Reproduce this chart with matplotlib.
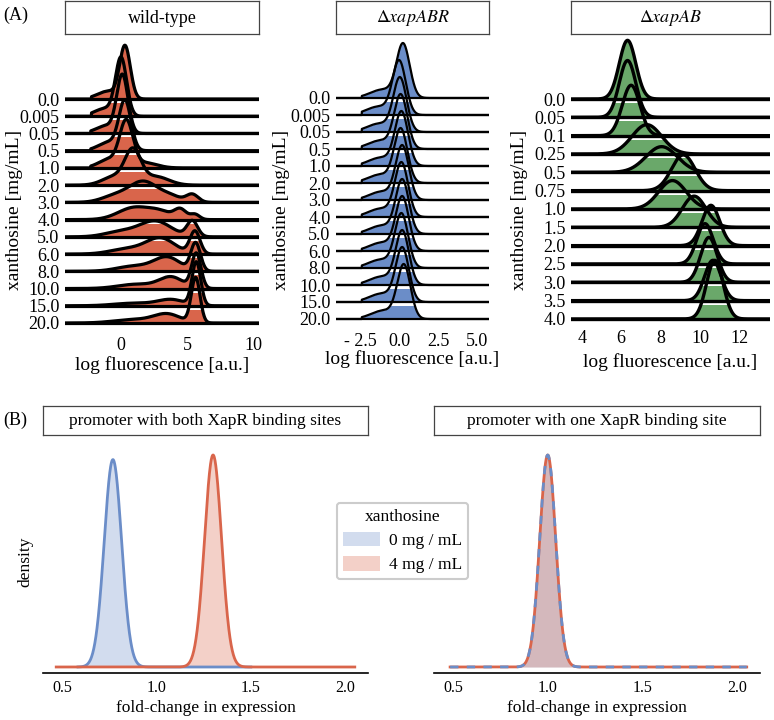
import numpy as np
import matplotlib
matplotlib.use('Agg')
import matplotlib.pyplot as plt
from matplotlib.patches import Patch

plt.rcParams['font.family'] = ['Liberation Serif', 'DejaVu Serif']
plt.rcParams['mathtext.fontset'] = 'stix'

W, H = 774, 720

# ---------------- panel A data ----------------
# each ridge = list of (centre, width, height in row units)
wt_conc = ['0.0', '0.005', '0.05', '0.5', '1.0', '2.0', '3.0', '4.0',
           '5.0', '6.0', '8.0', '10.0', '15.0', '20.0']
wt_peaks = [
    [(0.3, 0.40, 3.0), (-1.0, 0.8, 0.45)],
    [(0.0, 0.42, 3.3), (-1.2, 0.8, 0.45)],
    [(0.1, 0.42, 3.3), (-1.1, 0.8, 0.45)],
    [(0.3, 0.45, 2.8), (-0.9, 0.8, 0.5)],
    [(0.4, 0.50, 2.6), (-0.9, 0.8, 0.5), (1.8, 0.9, 0.3)],
    [(0.9, 0.60, 1.9), (-0.5, 0.9, 0.5), (2.6, 1.0, 0.5)],
    [(1.7, 1.10, 1.2), (-0.5, 1.0, 0.35), (3.8, 0.8, 0.3), (5.4, 0.45, 0.45)],
    [(1.0, 1.20, 0.7), (3.0, 0.9, 0.4), (4.5, 0.45, 0.55), (5.6, 0.35, 0.3)],
    [(2.6, 1.20, 0.9), (0.0, 1.2, 0.3), (5.4, 0.40, 0.9)],
    [(3.0, 1.10, 0.9), (0.5, 1.3, 0.3), (5.6, 0.38, 1.3)],
    [(3.5, 1.00, 0.8), (1.0, 1.3, 0.3), (5.65, 0.36, 1.6)],
    [(3.8, 0.90, 0.65), (1.2, 1.4, 0.25), (5.7, 0.35, 2.0)],
    [(3.8, 1.00, 0.35), (1.0, 1.5, 0.15), (5.7, 0.33, 2.5)],
    [(3.5, 1.00, 0.5), (1.0, 1.5, 0.2), (5.65, 0.33, 2.6)],
]
wt_low = [-2.25, -2.25, -2.3, -2.3, -2.3, None, None, None, None, None, None, None, None, None]

abr_conc = wt_conc
abr_mu = [0.25, 0.0, 0.05, 0.1, 0.15, 0.1, 0.2, 0.15, 0.2, 0.2, 0.15, 0.2, 0.2, 0.3]
abr_peaks = [[(m, 0.42, 3.1), (m - 1.3, 0.8, 0.5)] for m in abr_mu]
abr_low = [-2.4] * 14

ab_conc = ['0.0', '0.05', '0.1', '0.25', '0.5', '0.75', '1.0', '1.5',
           '2.0', '2.5', '3.0', '3.5', '4.0']
ab_mu = [6.32, 6.32, 6.5, 7.3, 8.05, 9.15, 8.6, 9.7, 10.55, 10.25, 10.45, 10.65, 10.75]
ab_sd = [0.42, 0.42, 0.45, 0.75, 0.8, 0.6, 0.7, 0.6, 0.45, 0.42, 0.42, 0.42, 0.42]
ab_h = [3.2, 3.1, 2.75, 1.6, 1.4, 1.95, 1.55, 1.7, 2.2, 2.2, 2.45, 2.2, 3.2]
ab_peaks = [[(m, s, h)] for m, s, h in zip(ab_mu, ab_sd, ab_h)]
ab_low = [None] * 13

# ---------------- panel B data ----------------
both_mu = [0.77, 1.30]
both_sd = [0.046, 0.045]
both_range = [(0.585, 1.50), (0.47, 2.05)]
one_mu = [1.0, 1.0]
one_sd = [0.042, 0.042]
one_range = [(0.485, 2.05), (0.485, 2.05)]
legend_labels = ['0 mg / mL', '4 mg / mL']

red = '#d9654b'
blue = '#6b8dc8'
green = '#6aa86a'


def box(x0, x1, y0, y1):
    return [x0 / W, 1 - y1 / H, (x1 - x0) / W, (y1 - y0) / H]


def title_box(fig, rect, text, size=12.5):
    tax = fig.add_axes(rect)
    tax.set_xticks([])
    tax.set_yticks([])
    for s in tax.spines.values():
        s.set_color('#444444')
        s.set_linewidth(0.9)
    tax.text(0.5, 0.47, text, ha='center', va='center', fontsize=size,
             transform=tax.transAxes)


def ridge(x, comps, lo):
    y = np.zeros_like(x)
    for m, s, h in comps:
        y += h * np.exp(-0.5 * ((x - m) / s) ** 2)
    if lo is not None:
        y[x < lo] = 0
    return y


def ridges(fig, px, labels, peaks, lows, color, xlim, base0, spacing, lw,
           ticks, ticklabels, title, xpad, xlab_y, ylab_x):
    x0, x1, y0, y1 = px
    ax = fig.add_axes(box(x0, x1, y0, y1))
    ax.set_facecolor('none')
    x = np.linspace(xlim[0], xlim[1], 3000)
    band = 4.0 / spacing
    for i, (comps, lo) in enumerate(zip(peaks, lows)):
        b = -i
        y = ridge(x, comps, lo)
        # fills under white gaps, outlines on top of everything
        ax.fill_between(x, b, b + y, color=color, lw=0, zorder=2 + 0.01 * i)
        ax.axhspan(b - band, b, color='w', lw=0, zorder=5)
        ax.plot(x, b + y, color='k', lw=lw, zorder=10 + 0.01 * i)
        ax.axhline(b, color='k', lw=lw, zorder=10 + 0.01 * i)
    ax.set_xlim(xlim)
    ax.set_ylim(-(y1 - base0) / spacing, (base0 - y0) / spacing)
    ax.set_yticks(-np.arange(len(labels)))
    ax.set_yticklabels(labels)
    ax.set_xticks(ticks)
    ax.set_xticklabels(ticklabels)
    ax.tick_params(length=0, labelsize=13)
    ax.tick_params(axis='y', pad=4)
    ax.tick_params(axis='x', pad=xpad)
    for s in ax.spines.values():
        s.set_visible(False)
    fig.text(((x0 + x1) / 2) / W, 1 - xlab_y / H, 'log fluorescence [a.u.]',
             ha='center', va='center', fontsize=14)
    fig.text(ylab_x / W, 1 - 210 / H, 'xanthosine [mg/mL]', rotation=90,
             ha='center', va='center', fontsize=14)
    title_box(fig, box(x0, x1, 1, 34), title, 13)
    return ax


def dens(ax, mus, sds, ranges, dashed=False):
    peak = 0
    for k, (m, s, (lo, hi)) in enumerate(zip(mus, sds, ranges)):
        x = np.linspace(lo, hi, 800)
        y = np.exp(-0.5 * ((x - m) / s) ** 2) / (s * np.sqrt(2 * np.pi))
        c = [blue, red][k]
        ax.fill_between(x, 0, y, color=c, alpha=0.3, lw=0)
        if dashed and k == 1:
            ax.plot(x, y, color=red, lw=2)
            ax.plot(x, y, color=blue, lw=2, dashes=(3, 3))
        elif not dashed:
            ax.plot(x, y, color=c, lw=2)
        peak = max(peak, y.max())
    return peak


def fold_panel(fig, px, mus, sds, ranges, title, dashed=False):
    x0, x1, y0, y1 = px
    ax = fig.add_axes(box(x0, x1, y0, y1))
    peak = dens(ax, mus, sds, ranges, dashed)
    ax.set_xlim(0.40, 2.12)
    ax.set_ylim(-6 / 212 * peak, (y1 - y0 - 6) / 212 * peak)
    ax.set_xticks([0.5, 1.0, 1.5, 2.0])
    ax.set_yticks([])
    ax.tick_params(length=0, labelsize=11.5, pad=5)
    for s in ['top', 'right', 'left']:
        ax.spines[s].set_visible(False)
    ax.spines['bottom'].set_linewidth(1.2)
    fig.text(((x0 + x1) / 2) / W, 1 - 708 / H, 'fold-change in expression',
             ha='center', va='center', fontsize=12.5)
    title_box(fig, box(x0, x1, 406, 435), title, 12.5)
    return ax


fig = plt.figure(figsize=(W / 100, H / 100), dpi=100)

ridges(fig, (65, 259, 36, 330), wt_conc, wt_peaks, wt_low, red, (-4.25, 10.45),
       99, 17.23, 2.3, [0, 5, 10], ['0', '5', '10'], 'wild-type', 5, 365, 15)
ridges(fig, (336, 489, 36, 330), abr_conc, abr_peaks, abr_low, blue, (-4.05, 5.75),
       98, 17.0, 1.6, [-2.5, 0, 2.5, 5.0], ['- 2.5', '0.0', '2.5', '5.0'],
       r'$\Delta\mathit{xapABR}$', 2, 359, 281)
ridges(fig, (571, 770, 36, 330), ab_conc, ab_peaks, ab_low, green, (3.45, 13.55),
       99, 18.33, 2.4, [4, 6, 8, 10, 12], ['4', '6', '8', '10', '12'],
       r'$\Delta\mathit{xapAB}$', 0, 362, 519)

fold_panel(fig, (43, 368, 440, 673), both_mu, both_sd, both_range,
           'promoter with both XapR binding sites')
fold_panel(fig, (434, 760, 440, 673), one_mu, one_sd, one_range,
           'promoter with one XapR binding site', dashed=True)
fig.text(25 / W, 1 - 562 / H, 'density', rotation=90, ha='center', va='center',
         fontsize=12.5)

handles = [Patch(facecolor=blue, alpha=0.3, edgecolor='none'),
           Patch(facecolor=red, alpha=0.3, edgecolor='none')]
leg = fig.legend(handles, legend_labels, title='xanthosine', loc='upper left',
                 bbox_to_anchor=(337 / W, 1 - 503 / H), borderaxespad=0,
                 fontsize=12.5, title_fontsize=12.5, handlelength=2.1,
                 handleheight=0.9, frameon=True, fancybox=True,
                 edgecolor='#cccccc', framealpha=1, borderpad=0.35,
                 labelspacing=0.4, handletextpad=0.55)
leg.get_frame().set_linewidth(1.5)

fig.text(3 / W, 1 - 15 / H, '(A)', ha='left', va='center', fontsize=13)
fig.text(3 / W, 1 - 420 / H, '(B)', ha='left', va='center', fontsize=13)

fig.savefig('out.png', dpi=100)
